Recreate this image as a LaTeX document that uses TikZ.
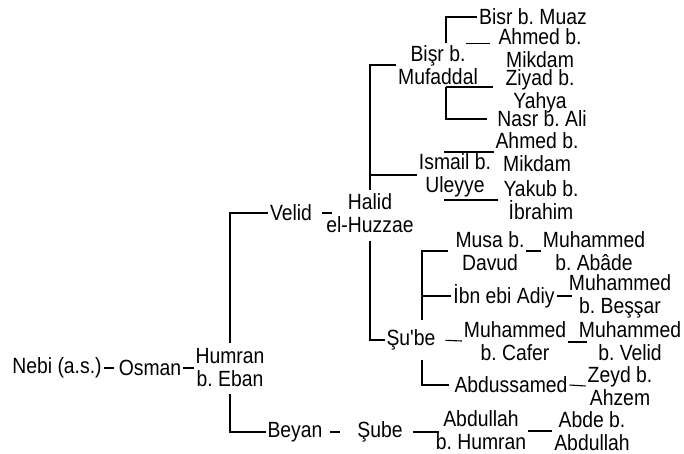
\documentclass[tikz,border=0pt]{standalone}
\usepackage{fontspec}
\setmainfont{Liberation Sans}[Ligatures=TeXOff,FakeStretch=0.88]
\frenchspacing
\begin{document}
\begin{tikzpicture}[x=1pt,y=-1pt,
  lbl/.style={inner sep=0pt,outer sep=2pt,align=center,font=\fontsize{22}{23}\selectfont\frenchspacing},
  con/.style={draw=black,line width=1.1pt}]
\useasboundingbox (0,0) rectangle (684,454);
% root chain
\node[lbl] (nebi) at (57,368) {Nebi (a.s.)};
\node[lbl] (osm) at (150,368) {Osman};
\node[lbl] (hum) at (230,368) {Humran\\b. Eban};
\node[lbl] (vel) at (291,213) {Velid};
\node[lbl] (hal) at (370,213) {Halid\\el-Huzzae};
\node[lbl] (bey) at (295,432) {Beyan};
\node[lbl] (sbe) at (380,432) {Şube};
\node[lbl] (abd) at (481,430) {Abdullah\\b. Humran};
\node[lbl] (abde) at (592,431) {Abde b.\\Abdullah};
% Halid subtree
\node[lbl] (bis) at (438,65) {Bişr b.\\Mufaddal};
\node[lbl] (ism) at (455,175) {Ismail b.\\Uleyye};
\node[lbl] (sub) at (411,340) {Şu'be};
% Bisr subtree
\node[lbl] (muaz) at (533,17) {Bisr b. Muaz};
\node[lbl] (ahm1) at (540,48) {Ahmed b.\\Mikdam};
\node[lbl] (ziy) at (540,91) {Ziyad b.\\Yahya};
\node[lbl] (nasr) at (542,119) {Nasr b. Ali};
% Ismail subtree
\node[lbl] (ahm2) at (537,152) {Ahmed b.\\Mikdam};
\node[lbl] (yak) at (541,200) {Yakub b.\\İbrahim};
% Su'be subtree
\node[lbl] (musa) at (490,251) {Musa b.\\Davud};
\node[lbl] (muh1) at (594,251) {Muhammed\\b. Abâde};
\node[lbl] (ibn) at (504,296) {İbn ebi Adiy};
\node[lbl] (muh2) at (620,296) {Muhammed\\b. Beşşar};
\node[lbl] (muh3) at (515,341) {Muhammed\\b. Cafer};
\node[lbl] (muh4) at (630,341) {Muhammed\\b. Velid};
\node[lbl] (abds) at (511,385) {Abdussamed};
\node[lbl] (zey) at (620,386) {Zeyd b.\\Ahzem};
% coordinates
\coordinate (bt) at (446,43);
\coordinate (bb) at (446,87);
\coordinate (st) at (422,320);
\coordinate (sb) at (422,360);
% connectors
\draw[con,shorten >=3pt] (nebi.east) -- (osm.west);
\draw[con] (osm.east) -- (hum.west);
\draw[con,shorten <=4pt] (hum.north) |- (vel.west);
\draw[con,shorten <=5pt] (hum.south) |- (bey.west);
\draw[con,shorten <=8pt] (vel.east) -- ([xshift=8pt]hal.west);
\draw[con,shorten <=1pt] (hal.north) |- (bis.west);
\draw[con] (hal.north |- ism.west) -- (ism.west);
\draw[con,shorten <=6pt] (hal.south) |- (sub.west);
\draw[con,shorten <=6pt,shorten >=15pt] (bey.east) -- (sbe.west);
\draw[con,shorten <=8pt] (sbe.east) -- ([xshift=5pt]abd.west |- sbe.east);
\draw[con] (abd.east |- abde.west) -- (abde.west);
% Bisr
\draw[con] (bt) |- (muaz.west);
\draw[con] ([xshift=-14pt]bis.north east) -- ([xshift=-7pt]ahm1.west |- bis.north east);
\draw[con] (bb) -- ([xshift=-11pt]ziy.west |- bb);
\draw[con] (bb) |- ([xshift=-8pt]nasr.west);
% Ismail
\draw[con] ([xshift=-11pt]ism.north |- ahm2.west) -- (ahm2.west);
\draw[con] ([xshift=-11pt]ism.south |- yak.west) -- ([xshift=-4pt]yak.west);
% Su'be
\draw[con] (st) |- ([xshift=-6pt]musa.west);
\draw[con] (st |- ibn.west) -- (ibn.west);
\draw[con] (sb) |- ([xshift=-4pt]abds.west);
\draw[con] (musa.east) -- (muh1.west);
\draw[con] (ibn.east) -- ([xshift=5pt]muh2.west);
\draw[con,shorten <=8pt] (sub.east) -- (muh3.west);
\draw[con] ([yshift=-1pt]muh3.east) -- ([xshift=10pt,yshift=-1pt]muh4.west);
\draw[con] (abds.east) -- (zey.west);
\end{tikzpicture}
\end{document}
